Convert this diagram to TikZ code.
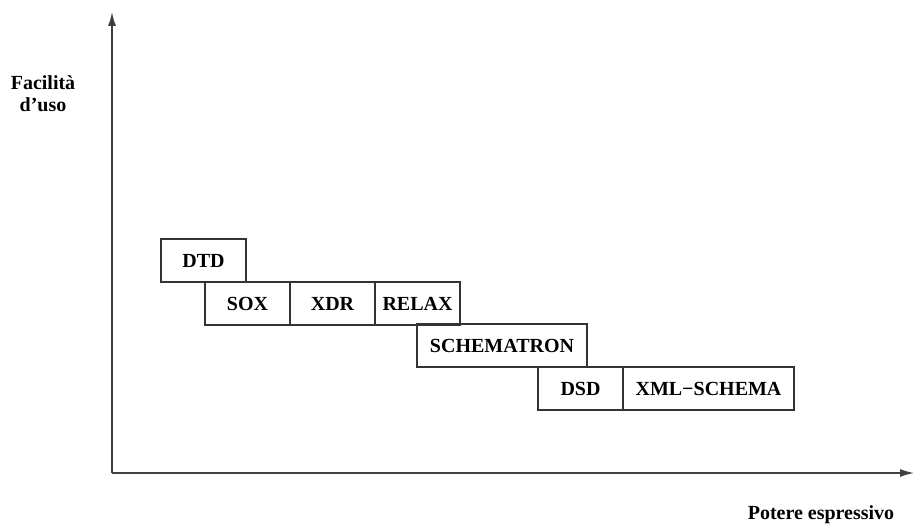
\documentclass[tikz,border=0pt]{standalone}
\usepackage{fontspec}
\setmainfont{Liberation Serif}
\usetikzlibrary{arrows.meta,positioning}

\tikzset{
  lang/.style={draw=black!80,line width=1.2pt,outer sep=0pt,inner sep=0pt,
    minimum height=43pt,minimum width=85pt,font=\bfseries\fontsize{20}{22}\selectfont},
  wide/.style={lang,minimum width=170pt},
  axislbl/.style={font=\bfseries\fontsize{20}{22}\selectfont,align=center}
}

\begin{document}
\begin{tikzpicture}[x=1pt,y=1pt,line width=1.4pt,>={Latex[length=14pt,width=8pt]}]
  \useasboundingbox (0,0) rectangle (915,528);
  % assi
  \coordinate (o) at (112,55);
  \coordinate (ytop) at (112,516);
  \coordinate (xend) at (914,55);
  \draw[->,black!75] (o)--(ytop);
  \draw[->,black!75] (o)--(xend);
  \node[axislbl] (ylbl) at (43,434) {Facilità\\d’uso};
  \node[axislbl] (xlbl) at (821,13) {Potere espressivo};
  % linguaggi di schema
  \node[lang,anchor=north west] (dtd) at (161,289) {DTD};
  \node[lang,anchor=north west] (sox) at (205,246) {SOX};
  \node[lang,right=0pt of sox] (xdr) {XDR};
  \node[lang,right=0pt of xdr] (relax) {RELAX};
  \node[wide,anchor=north west] (schematron) at (417,204) {SCHEMATRON};
  \node[lang,anchor=north west] (dsd) at (538,161) {DSD};
  \node[wide,right=0pt of dsd,minimum width=171pt] (xmlschema) {XML−SCHEMA};
\end{tikzpicture}
\end{document}
